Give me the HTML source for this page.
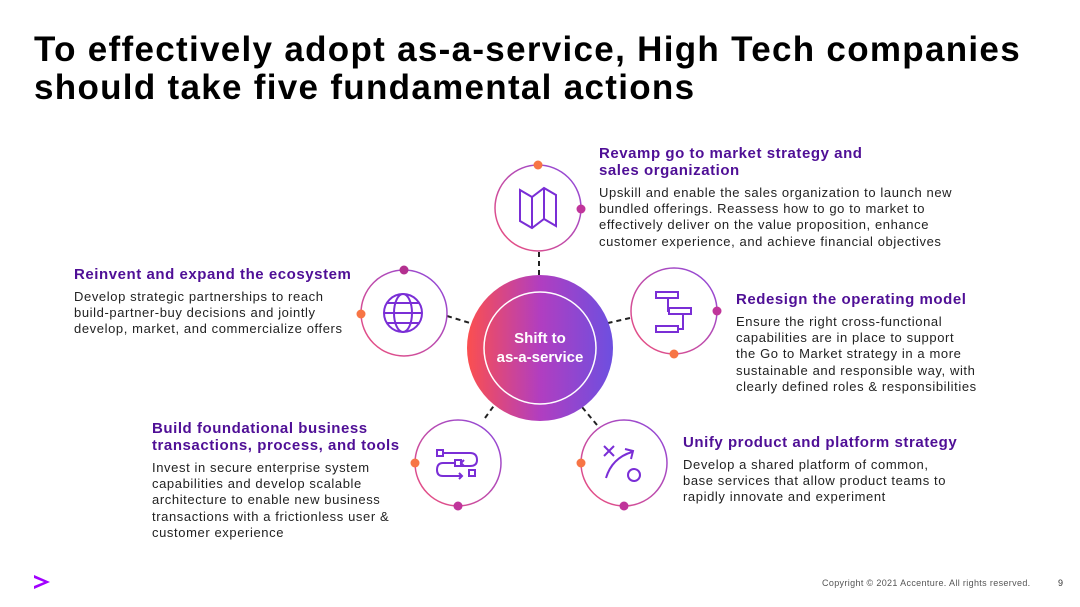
<!DOCTYPE html>
<html><head><meta charset="utf-8"><style>
body{margin:0;width:1080px;height:607px;background:#fff;position:relative;overflow:hidden;font-family:"Liberation Sans",sans-serif;}
.t{position:absolute;white-space:nowrap;}
.title{left:34px;top:31px;font-size:35px;font-weight:bold;line-height:38px;color:#000;letter-spacing:1.3px}
.h{font-size:15px;font-weight:bold;color:#4f0f96;line-height:17px;letter-spacing:0.55px}
.b{font-size:13px;color:#222;line-height:16.2px;margin-top:6px;letter-spacing:0.6px}
</style></head><body>
<div class="t title">To effectively adopt as-a-service, High Tech companies<br>should take five fundamental actions</div>

<svg width="1080" height="607" style="position:absolute;left:0;top:0">
<defs>
<linearGradient id="cg" x1="0" x2="1" y1="0" y2="0"><stop offset="0" stop-color="#fb4f4f"/><stop offset="0.5" stop-color="#b13ec0"/><stop offset="1" stop-color="#6d4fe0"/></linearGradient>
<linearGradient id="rg" x1="0" x2="1" y1="1" y2="0"><stop offset="0" stop-color="#f0507a"/><stop offset="1" stop-color="#8a48e0"/></linearGradient>
</defs>
<g stroke="#222" stroke-width="2" stroke-dasharray="5,4" fill="none">
<line x1="539" y1="252" x2="539" y2="276"/>
<line x1="447" y1="316" x2="470" y2="323"/>
<line x1="630" y1="318" x2="608" y2="323"/>
<line x1="485" y1="418" x2="498" y2="400"/>
<line x1="597" y1="425" x2="582" y2="407"/>
</g>
<circle cx="540" cy="348" r="73" fill="url(#cg)"/>
<circle cx="540" cy="348" r="56" fill="none" stroke="#fff" stroke-width="1.5"/>
<text x="540" y="343" fill="#fff" font-size="15" font-weight="bold" text-anchor="middle" font-family="Liberation Sans">Shift to</text>
<text x="540" y="362" fill="#fff" font-size="15" font-weight="bold" text-anchor="middle" font-family="Liberation Sans">as-a-service</text>
<g fill="#fff" stroke="url(#rg)" stroke-width="1.5">
<circle cx="538" cy="208" r="43"/>
<circle cx="404" cy="313" r="43"/>
<circle cx="674" cy="311" r="43"/>
<circle cx="458" cy="463" r="43"/>
<circle cx="624" cy="463" r="43"/>
</g>
<g>
<circle cx="538" cy="165" r="4.5" fill="#f77545"/><circle cx="581" cy="209" r="4.5" fill="#c0359b"/>
<circle cx="404" cy="270" r="4.5" fill="#b3308f"/><circle cx="361" cy="314" r="4.5" fill="#f77545"/>
<circle cx="717" cy="311" r="4.5" fill="#c0359b"/><circle cx="674" cy="354" r="4.5" fill="#f77545"/>
<circle cx="415" cy="463" r="4.5" fill="#f77545"/><circle cx="458" cy="506" r="4.5" fill="#c0359b"/>
<circle cx="581" cy="463" r="4.5" fill="#f77545"/><circle cx="624" cy="506" r="4.5" fill="#c0359b"/>
</g>
<g fill="none" stroke="#7a2ed6" stroke-width="2">
<path d="M520 190 L532 197 L544 188 L556 195 L556 226 L544 219 L532 228 L520 221 Z M532 197 L532 228 M544 188 L544 219"/>
<circle cx="403" cy="313" r="19"/><ellipse cx="403" cy="313" rx="9" ry="19"/><line x1="384" y1="313" x2="422" y2="313"/><line x1="387" y1="303" x2="419" y2="303"/><line x1="387" y1="323" x2="419" y2="323"/>
<rect x="656" y="292" width="22" height="6"/><rect x="669" y="308" width="22" height="6"/><rect x="656" y="326" width="22" height="6"/><path d="M668 298 V311 H669 M683 314 V329 H678"/>
<rect x="437" y="450" width="6" height="6"/><rect x="455" y="460" width="6" height="6"/><rect x="469" y="470" width="6" height="6"/><path d="M443 453 H470 Q477 453 477 460 Q477 466 470 466 H461 M455 463 H443 Q437 463 437 470 Q437 476 443 476 H462 M464 460 L461 463 L464 466 M459 473 L462 476 L459 479"/>
<path d="M604 446 L614 456 M614 446 L604 456 M606 478 Q612 458 632 452 M625 449 L633 451 L631 459"/><circle cx="634" cy="475" r="6"/>
</g>
<path d="M34 575 L50 582 L34 589 L34 586 L44 582 L34 578 Z" fill="#a100ff"/>
</svg>

<div class="t" style="left:599px;top:145px"><div class="h">Revamp go to market strategy and<br>sales organization</div><div class="b">Upskill and enable the sales organization to launch new<br>bundled offerings. Reassess how to go to market to<br>effectively deliver on the value proposition, enhance<br>customer experience, and achieve financial objectives</div></div>
<div class="t" style="left:74px;top:266px"><div class="h">Reinvent and expand the ecosystem</div><div class="b">Develop strategic partnerships to reach<br>build-partner-buy decisions and jointly<br>develop, market, and commercialize offers</div></div>
<div class="t" style="left:736px;top:291px"><div class="h">Redesign the operating model</div><div class="b">Ensure the right cross-functional<br>capabilities are in place to support<br>the Go to Market strategy in a more<br>sustainable and responsible way, with<br>clearly defined roles &amp; responsibilities</div></div>
<div class="t" style="left:152px;top:420px"><div class="h">Build foundational business<br>transactions, process, and tools</div><div class="b">Invest in secure enterprise system<br>capabilities and develop scalable<br>architecture to enable new business<br>transactions with a frictionless user &amp;<br>customer experience</div></div>
<div class="t" style="left:683px;top:434px"><div class="h">Unify product and platform strategy</div><div class="b">Develop a shared platform of common,<br>base services that allow product teams to<br>rapidly innovate and experiment</div></div>

<div class="t" style="left:822px;top:578px;font-size:9px;color:#555;letter-spacing:0.35px">Copyright © 2021 Accenture. All rights reserved.</div>
<div class="t" style="left:1058px;top:578px;font-size:9px;color:#333">9</div>
</body></html>
